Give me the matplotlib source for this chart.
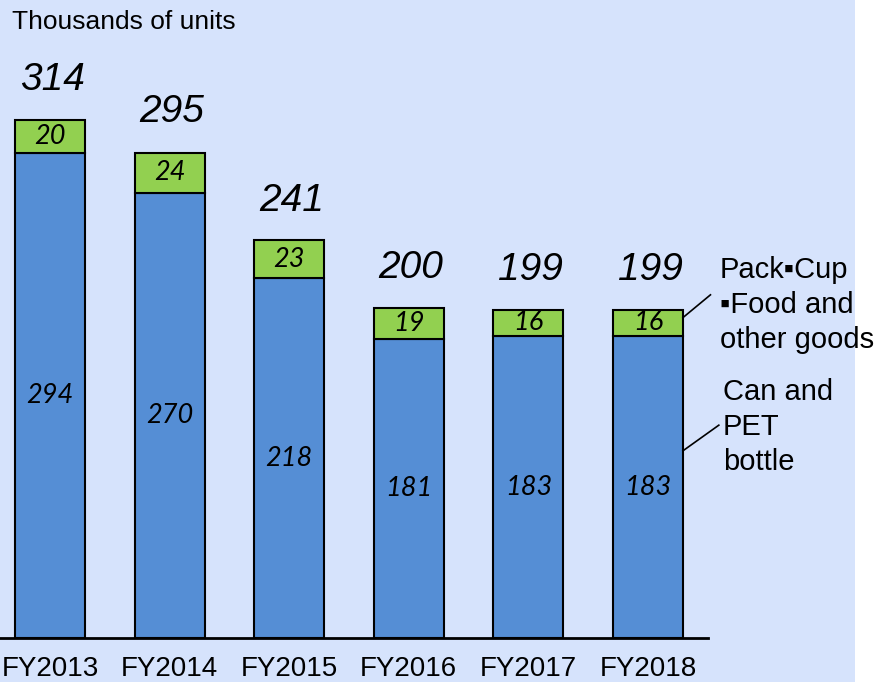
import numpy as np
import matplotlib.pyplot as plt
from matplotlib.patches import Rectangle

years = ['FY2013', 'FY2014', 'FY2015', 'FY2016', 'FY2017', 'FY2018']
can_pet = [294, 270, 218, 181, 183, 183]
pack_food = [20, 24, 23, 19, 16, 16]
totals = [314, 295, 241, 200, 199, 199]

blue = '#558ED5'
green = '#92D050'
bg = '#D6E3FC'
sans = ['Liberation Sans', 'DejaVu Sans']
narrow = ['Liberation Sans Narrow', 'Liberation Sans', 'DejaVu Sans']
num_font = ['Lato', 'DejaVu Sans']

fig = plt.figure(figsize=(8.77, 6.82), dpi=100)
fig.patch.set_facecolor('white')
fig.patches.append(Rectangle((0, 0), 855 / 877, 1, transform=fig.transFigure,
                             facecolor=bg, edgecolor='none', zorder=-10))

ax = fig.add_axes([0, 44 / 682, 708 / 877, 638 / 682])
ax.set_facecolor('none')

x = np.arange(len(years))
w = 0.585
ax.bar(x, can_pet, w, color=blue, edgecolor='black', linewidth=1.5)
ax.bar(x, pack_food, w, bottom=can_pet, color=green, edgecolor='black', linewidth=1.5)

for i in range(len(years)):
    ax.text(x[i], can_pet[i] / 2, str(can_pet[i]), ha='center', va='center',
            fontsize=19.5, style='italic', family=num_font)
    ax.text(x[i], can_pet[i] + pack_food[i] / 2, str(pack_food[i]), ha='center', va='center',
            fontsize=19.5, style='italic', family=num_font)
    ax.text(x[i] + 0.02, totals[i] + 24, str(totals[i]), ha='center', va='center',
            fontsize=28, style='italic', family=sans)

ax.set_xlim(-0.418, 5.502)
ax.set_ylim(0, 386.7)
ax.set_xticks(x)
ax.set_xticklabels(years, fontsize=20, family=narrow)
ax.tick_params(axis='x', length=0, pad=13)
ax.set_yticks([])
for s in ['left', 'right', 'top']:
    ax.spines[s].set_visible(False)
ax.spines['bottom'].set_linewidth(2)

# leader lines and series labels
last = len(years) - 1
xe = x[last] + w / 2
ax.plot([xe, xe + 0.23], [can_pet[last] + pack_food[last] * 0.7, 208], color='black',
        lw=1.2, clip_on=False)
ax.plot([xe, xe + 0.30], [can_pet[last] * 0.62, 129], color='black', lw=1.2, clip_on=False)

fig.text(720 / 877, 1 - 305 / 682, 'Pack\u25aaCup\n\u25aaFood and\nother goods', ha='left',
         va='center', fontsize=21, family=sans, linespacing=1.32)
fig.text(723 / 877, 1 - 427 / 682, 'Can and\nPET\nbottle', ha='left', va='center',
         fontsize=21, family=sans, linespacing=1.32)

fig.text(12 / 877, 1 - 22 / 682, 'Thousands of units', ha='left', va='center',
         fontsize=19, family=sans)

plt.savefig('out.png', dpi=100)
